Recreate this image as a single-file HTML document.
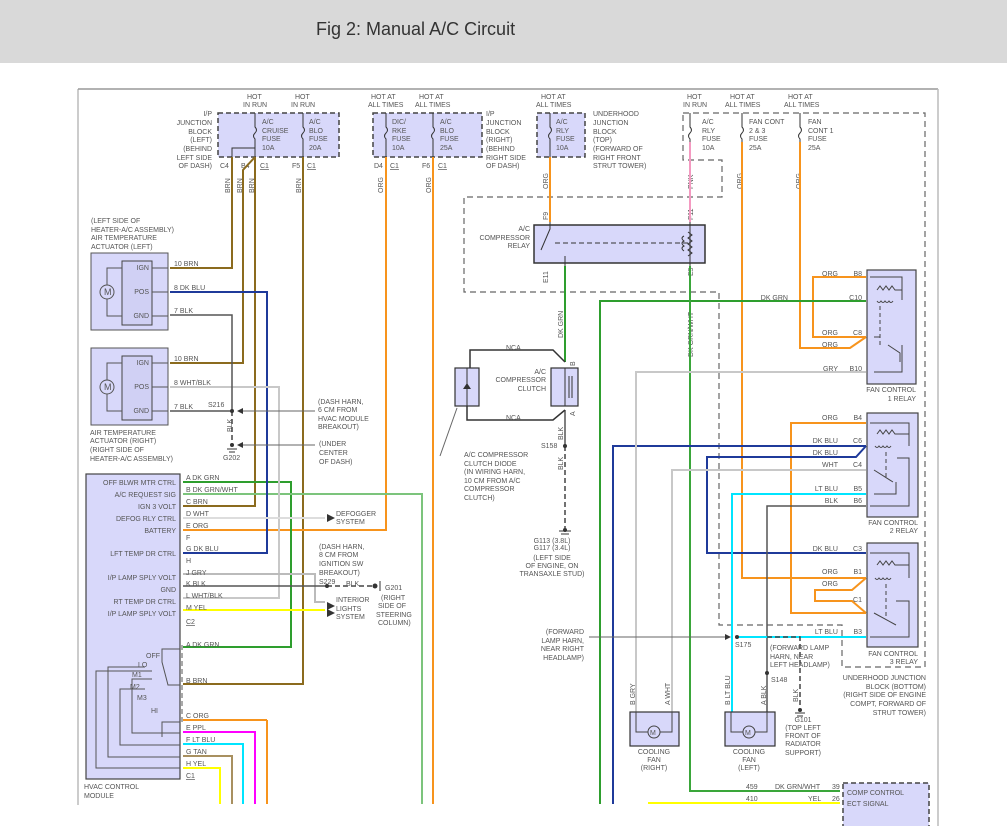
<!DOCTYPE html>
<html><head><meta charset="utf-8"><style>
html,body{margin:0;padding:0;background:#fff;}
svg{display:block;}
text{font-family:"Liberation Sans",sans-serif;font-size:7px;fill:#555;}
.t{font-size:18px;fill:#333;}
</style></head><body>
<svg width="1007" height="826" viewBox="0 0 1007 826" xmlns="http://www.w3.org/2000/svg">
<rect x="0" y="0" width="1007" height="63" fill="#d9d9d9"/>
<text x="316" y="35" class="t">Fig 2: Manual A/C Circuit</text>
<!-- borders -->
<line x1="78" y1="89" x2="938" y2="89" stroke="#999" stroke-width="1.5"/>
<line x1="78" y1="89" x2="78" y2="826" stroke="#999" stroke-width="1"/>
<line x1="938" y1="89" x2="938" y2="826" stroke="#bbb" stroke-width="1.5"/>

<g fill="none" stroke="#666" stroke-dasharray="6,4" stroke-width="1.2">
<!-- underhood top/big dashed -->
<path d="M683,113 H925 V667 H842 V625 H719 V292 H464 V197 H722 V160 H683 Z"/>
</g>

<!-- I/P junction blocks -->
<rect x="218" y="113" width="121" height="44" fill="#d8d8fa" stroke="#444" stroke-dasharray="5,3" stroke-width="1.5"/>
<rect x="373" y="113" width="109" height="44" fill="#d8d8fa" stroke="#444" stroke-dasharray="5,3" stroke-width="1.5"/>
<rect x="537" y="113" width="48" height="44" fill="#d8d8fa" stroke="#444" stroke-dasharray="5,3" stroke-width="1.5"/>

<g stroke="#333" stroke-width="1" fill="none">
<path d="M255,113 V127 q3,3 0,6 q-3,3 0,6 V157"/>
<path d="M303,113 V127 q3,3 0,6 q-3,3 0,6 V157"/>
<path d="M386,113 V127 q3,3 0,6 q-3,3 0,6 V157"/>
<path d="M433,113 V127 q3,3 0,6 q-3,3 0,6 V157"/>
<path d="M550,113 V127 q3,3 0,6 q-3,3 0,6 V157"/>
<path d="M690,113 V127 q3,3 0,6 q-3,3 0,6 V142"/>
<path d="M742,113 V127 q3,3 0,6 q-3,3 0,6 V142"/>
<path d="M800,113 V127 q3,3 0,6 q-3,3 0,6 V142"/>
<path d="M255,148 H232 V157"/>
</g>

<text x="247" y="99">HOT</text><text x="243" y="107">IN RUN</text>
<text x="295" y="99">HOT</text><text x="291" y="107">IN RUN</text>
<text x="371" y="99">HOT AT</text><text x="368" y="107">ALL TIMES</text>
<text x="419" y="99">HOT AT</text><text x="415" y="107">ALL TIMES</text>
<text x="541" y="99">HOT AT</text><text x="536" y="107">ALL TIMES</text>
<text x="687" y="99">HOT</text><text x="683" y="107">IN RUN</text>
<text x="730" y="99">HOT AT</text><text x="725" y="107">ALL TIMES</text>
<text x="788" y="99">HOT AT</text><text x="784" y="107">ALL TIMES</text>

<g text-anchor="end">
<text x="212" y="116">I/P</text><text x="212" y="125">JUNCTION</text><text x="212" y="134">BLOCK</text><text x="212" y="142">(LEFT)</text><text x="212" y="151">(BEHIND</text><text x="212" y="160">LEFT SIDE</text><text x="212" y="168">OF DASH)</text>
</g>
<text x="262" y="124">A/C</text><text x="262" y="133">CRUISE</text><text x="262" y="141">FUSE</text><text x="262" y="150">10A</text>
<text x="309" y="124">A/C</text><text x="309" y="133">BLO</text><text x="309" y="141">FUSE</text><text x="309" y="150">20A</text>
<text x="392" y="124">DIC/</text><text x="392" y="133">RKE</text><text x="392" y="141">FUSE</text><text x="392" y="150">10A</text>
<text x="440" y="124">A/C</text><text x="440" y="133">BLO</text><text x="440" y="141">FUSE</text><text x="440" y="150">25A</text>
<text x="486" y="116">I/P</text><text x="486" y="125">JUNCTION</text><text x="486" y="134">BLOCK</text><text x="486" y="142">(RIGHT)</text><text x="486" y="151">(BEHIND</text><text x="486" y="160">RIGHT SIDE</text><text x="486" y="168">OF DASH)</text>
<text x="556" y="124">A/C</text><text x="556" y="133">RLY</text><text x="556" y="141">FUSE</text><text x="556" y="150">10A</text>
<text x="593" y="116">UNDERHOOD</text><text x="593" y="125">JUNCTION</text><text x="593" y="134">BLOCK</text><text x="593" y="142">(TOP)</text><text x="593" y="151">(FORWARD OF</text><text x="593" y="160">RIGHT FRONT</text><text x="593" y="168">STRUT TOWER)</text>
<text x="702" y="124">A/C</text><text x="702" y="133">RLY</text><text x="702" y="141">FUSE</text><text x="702" y="150">10A</text>
<text x="749" y="124">FAN CONT</text><text x="749" y="133">2 &amp; 3</text><text x="749" y="141">FUSE</text><text x="749" y="150">25A</text>
<text x="808" y="124">FAN</text><text x="808" y="133">CONT 1</text><text x="808" y="141">FUSE</text><text x="808" y="150">25A</text>

<text x="220" y="168">C4</text><text x="241" y="168">B4</text><text x="260" y="168" text-decoration="underline">C1</text>
<text x="292" y="168">F5</text><text x="307" y="168" text-decoration="underline">C1</text>
<text x="374" y="168">D4</text><text x="390" y="168" text-decoration="underline">C1</text>
<text x="422" y="168">F6</text><text x="438" y="168" text-decoration="underline">C1</text>

<!-- vertical wire labels -->
<g>
<text transform="translate(230,193) rotate(-90)">BRN</text>
<text transform="translate(242,193) rotate(-90)">BRN</text>
<text transform="translate(254,193) rotate(-90)">BRN</text>
<text transform="translate(301,193) rotate(-90)">BRN</text>
<text transform="translate(383,193) rotate(-90)">ORG</text>
<text transform="translate(431,193) rotate(-90)">ORG</text>
<text transform="translate(548,189) rotate(-90)">ORG</text>
<text transform="translate(693,189) rotate(-90)">PNK</text>
<text transform="translate(742,189) rotate(-90)">ORG</text>
<text transform="translate(801,189) rotate(-90)">ORG</text>
<text transform="translate(548,220) rotate(-90)">F9</text>
<text transform="translate(693,220) rotate(-90)">F11</text>
<text transform="translate(548,283) rotate(-90)">E11</text>
<text transform="translate(693,276) rotate(-90)">E9</text>
<text transform="translate(563,338) rotate(-90)">DK GRN</text>
<text transform="translate(693,357) rotate(-90)">DK GRN/WHT</text>
<text transform="translate(563,440) rotate(-90)">BLK</text>
<text transform="translate(563,470) rotate(-90)">BLK</text>
<text transform="translate(232,432) rotate(-90)">BLK</text>
<text transform="translate(798,702) rotate(-90)">BLK</text>
<text transform="translate(635,705) rotate(-90)">B  GRY</text>
<text transform="translate(670,705) rotate(-90)">A  WHT</text>
<text transform="translate(730,705) rotate(-90)">B  LT BLU</text>
<text transform="translate(766,705) rotate(-90)">A  BLK</text>
<text transform="translate(575,366) rotate(-90)">B</text>
<text transform="translate(575,416) rotate(-90)">A</text>
</g>

<!-- WIRES -->
<g fill="none" stroke-width="2">
<!-- brown -->
<path d="M232,157 V268 H170" stroke="#8b6b1e"/>
<path d="M255,157 L243,170 V363 H170" stroke="#8b6b1e"/>
<path d="M255,157 V506 H183" stroke="#8b6b1e"/>
<path d="M303,157 V684 H183" stroke="#8b6b1e"/>
<!-- orange -->
<path d="M386,157 V530 H183" stroke="#f7941d"/>
<path d="M433,157 V804" stroke="#f7941d"/>
<path d="M550,157 V222" stroke="#f7941d"/>
<path d="M742,142 V578 H866" stroke="#f7941d"/>
<path d="M800,142 V348 H850 L866,337" stroke="#f7941d"/>
<path d="M866,277 H813 V337 H866" stroke="#f7941d"/>
<path d="M866,423 H791 V613 H866" stroke="#f7941d"/>
<path d="M866,578 L852,590 H815 V601 H852 L866,613" stroke="#f7941d"/>
<path d="M267,720 H183" stroke="#f7941d"/>
<path d="M267,720 V804" stroke="#f7941d"/>
<!-- pink -->
<path d="M690,142 V222" stroke="#f49ac1"/>
<!-- dark green -->
<path d="M565,266 V362" stroke="#2e9e2e"/>
<path d="M866,301 H600 V804" stroke="#2e9e2e"/>
<path d="M183,482 H291 V647 H183" stroke="#2e9e2e"/>
<path d="M690,266 V791 H840" stroke="#3aa63a"/>
<path d="M183,494 H422 V804" stroke="#7cc47c"/>
<!-- dark blue -->
<path d="M170,292 H267 V553 H183" stroke="#1f3a9a"/>
<path d="M866,446 H613 V804" stroke="#1f3a9a"/>
<path d="M866,446 L856,457 H707 V553 H866" stroke="#1f3a9a"/>
<!-- gray/white -->
<path d="M170,387 H279 V598 H183" stroke="#c8c8c8"/>
<path d="M183,518 H325" stroke="#ddd"/>
<path d="M183,574 H315 V602 H325" stroke="#bbb"/>
<path d="M866,372 H636 V712" stroke="#c8c8c8"/>
<path d="M866,470 H672 V712" stroke="#c8c8c8"/>
<!-- black -->
<path d="M170,315 H232 V411 H170" stroke="#555" stroke-width="1.5"/>
<path d="M183,586 H327" stroke="#555" stroke-width="1.5"/>
<path d="M866,506 H767 V712" stroke="#555" stroke-width="1.5"/>
<path d="M565,410 V446" stroke="#555" stroke-width="1.5"/>
<!-- lt blue -->
<path d="M866,494 H732 V712" stroke="#00e5ff"/>
<path d="M866,637 H737" stroke="#00e5ff"/>
<path d="M183,744 H243 V804" stroke="#00e5ff"/>
<!-- ppl -->
<path d="M183,732 H255 V804" stroke="#ff00ff"/>
<!-- tan -->
<path d="M183,756 H232 V804" stroke="#a89060"/>
<!-- yellow -->
<path d="M183,610 H325" stroke="#ffff00"/>
<path d="M183,768 H220 V804" stroke="#ffff00"/>
<path d="M648,803 H840" stroke="#ffff00"/>
</g>

<!-- dashed ground wires -->
<g fill="none" stroke="#444" stroke-width="1.5" stroke-dasharray="5,3">
<path d="M232,411 V440"/>
<path d="M565,446 V528"/>
<path d="M327,586 H372"/>
<path d="M767,637 H800 V708"/>
</g>
<g fill="#333">
<circle cx="232" cy="411" r="2"/><circle cx="232" cy="445" r="2"/>
<circle cx="565" cy="446" r="2"/><circle cx="327" cy="586" r="2"/>
<circle cx="375" cy="586" r="2.5"/><circle cx="737" cy="637" r="2"/>
<circle cx="767" cy="673" r="2"/><circle cx="565" cy="530" r="2"/><circle cx="800" cy="710" r="2"/>
</g>
<g stroke="#333" stroke-width="1">
<line x1="559" y1="531" x2="571" y2="531"/><line x1="561" y1="534" x2="569" y2="534"/>
<line x1="227" y1="449" x2="237" y2="449"/><line x1="229" y1="452" x2="235" y2="452"/>
<line x1="795" y1="713" x2="805" y2="713"/><line x1="797" y1="716" x2="803" y2="716"/>
<line x1="380" y1="581" x2="380" y2="591"/>
<line x1="315" y1="411" x2="240" y2="411" stroke="#666"/>
<line x1="315" y1="445" x2="240" y2="445" stroke="#666"/>
<line x1="589" y1="637" x2="726" y2="637" stroke="#666"/>
<line x1="440" y1="456" x2="457" y2="408" stroke="#666"/>
</g>
<g fill="#333">
<polygon points="237,411 243,408 243,414"/><polygon points="237,445 243,442 243,448"/>
<polygon points="731,637 725,634 725,640"/>
<polygon points="335,518 327,514 327,522"/><polygon points="335,606 327,602 327,610"/><polygon points="335,613 327,609 327,617"/>
</g>

<!-- actuators -->
<rect x="91" y="253" width="77" height="77" fill="#d8d8fa" stroke="#555"/>
<rect x="122" y="261" width="30" height="64" fill="#d0d0f4" stroke="#444"/>
<rect x="91" y="348" width="77" height="77" fill="#d8d8fa" stroke="#555"/>
<rect x="122" y="356" width="30" height="64" fill="#d0d0f4" stroke="#444"/>
<g fill="none" stroke="#555">
<path d="M122,268 H107 V285 M107,299 V316 H122"/>
<path d="M122,363 H107 V380 M107,394 V411 H122"/>
<circle cx="107" cy="292" r="7"/><circle cx="107" cy="387" r="7"/>
<path d="M152,268 H168 M152,292 H168 M152,316 H168 M152,363 H168 M152,387 H168 M152,411 H168"/>
</g>
<text x="104" y="295" style="font-size:9px">M</text><text x="104" y="390" style="font-size:9px">M</text>
<g text-anchor="end"><text x="149" y="270">IGN</text><text x="149" y="294">POS</text><text x="149" y="318">GND</text>
<text x="149" y="365">IGN</text><text x="149" y="389">POS</text><text x="149" y="413">GND</text></g>
<text x="174" y="266">10  BRN</text><text x="174" y="290">8   DK BLU</text><text x="174" y="313">7   BLK</text>
<text x="174" y="361">10  BRN</text><text x="174" y="385">8   WHT/BLK</text><text x="174" y="409">7   BLK</text><text x="208" y="407">S216</text>
<text x="91" y="223">(LEFT SIDE OF</text><text x="91" y="232">HEATER-A/C ASSEMBLY)</text><text x="91" y="240">AIR TEMPERATURE</text><text x="91" y="249">ACTUATOR (LEFT)</text>
<text x="90" y="435">AIR TEMPERATURE</text><text x="90" y="443">ACTUATOR (RIGHT)</text><text x="90" y="452">(RIGHT SIDE OF</text><text x="90" y="461">HEATER-A/C ASSEMBLY)</text>
<text x="223" y="460">G202</text>
<text x="318" y="404">(DASH HARN,</text><text x="318" y="412">6 CM FROM</text><text x="318" y="421">HVAC MODULE</text><text x="318" y="429">BREAKOUT)</text>
<text x="319" y="446">(UNDER</text><text x="319" y="455">CENTER</text><text x="319" y="464">OF DASH)</text>

<!-- HVAC module -->
<rect x="86" y="474" width="94" height="305" fill="#d8d8fa" stroke="#444" stroke-width="1.2"/>
<g text-anchor="end">
<text x="176" y="485">OFF BLWR MTR CTRL</text><text x="176" y="497">A/C REQUEST SIG</text><text x="176" y="509">IGN 3 VOLT</text><text x="176" y="521">DEFOG RLY CTRL</text><text x="176" y="533">BATTERY</text><text x="176" y="556">LFT TEMP DR CTRL</text><text x="176" y="580">I/P LAMP SPLY VOLT</text><text x="176" y="592">GND</text><text x="176" y="604">RT TEMP DR CTRL</text><text x="176" y="616">I/P LAMP SPLY VOLT</text>
</g>
<g>
<text x="186" y="480">A   DK GRN</text><text x="186" y="492">B   DK GRN/WHT</text><text x="186" y="504">C   BRN</text><text x="186" y="516">D   WHT</text><text x="186" y="528">E   ORG</text><text x="186" y="540">F</text><text x="186" y="551">G   DK BLU</text><text x="186" y="563">H</text><text x="186" y="575">J   GRY</text><text x="186" y="586">K   BLK</text><text x="186" y="598">L   WHT/BLK</text><text x="186" y="610">M   YEL</text><text x="186" y="624" text-decoration="underline">C2</text>
<text x="186" y="647">A   DK GRN</text><text x="186" y="683">B   BRN</text><text x="186" y="718">C   ORG</text><text x="186" y="730">E   PPL</text><text x="186" y="742">F   LT BLU</text><text x="186" y="754">G   TAN</text><text x="186" y="766">H   YEL</text><text x="186" y="778" text-decoration="underline">C1</text>
</g>
<g fill="none" stroke="#555" stroke-width="1">
<path d="M180,649 H162 V662 L168,685 H180"/>
<path d="M162,737 V722 H180"/>
<path d="M152,679 H132 V733 H180"/>
<path d="M145,689 H120 V745 H180"/>
<path d="M145,667 H108 V757 H180"/>
<path d="M152,671 H96 V768 H180"/>
<path d="M182,645 V724" stroke-dasharray="5,3"/>
</g>
<text x="146" y="658">OFF</text><text x="138" y="667">LO</text><text x="132" y="677">M1</text><text x="130" y="689">M2</text><text x="137" y="700">M3</text><text x="151" y="713">HI</text>
<text x="84" y="789">HVAC CONTROL</text><text x="84" y="798">MODULE</text>
<text x="336" y="516">DEFOGGER</text><text x="336" y="524">SYSTEM</text>
<text x="319" y="549">(DASH HARN,</text><text x="319" y="557">8 CM FROM</text><text x="319" y="566">IGNITION SW</text><text x="319" y="575">BREAKOUT)</text>
<text x="319" y="584">S229</text><text x="346" y="586">BLK</text>
<text x="336" y="602">INTERIOR</text><text x="336" y="611">LIGHTS</text><text x="336" y="619">SYSTEM</text>
<text x="385" y="590">G201</text><text x="381" y="600">(RIGHT</text><text x="378" y="608">SIDE OF</text><text x="376" y="617">STEERING</text><text x="378" y="625">COLUMN)</text>

<!-- A/C compressor relay -->
<rect x="534" y="225" width="171" height="38" fill="#d8d8fa" stroke="#333" stroke-width="1.5"/>
<g fill="none" stroke="#333">
<path d="M550,222 V229 L541,250"/><path d="M555,243 H690" stroke-dasharray="5,3"/>
<path d="M565,256 V266"/><path d="M690,222 V266"/>
<path d="M688,232 l4,3 -4,3 4,3 -4,3 4,3 -4,3 4,3 -4,3"/>
<path d="M684,236 q-4,2 0,5 q-4,2 0,5 q-4,2 0,5"/>
</g>
<g text-anchor="end"><text x="530" y="231">A/C</text><text x="530" y="240">COMPRESSOR</text><text x="530" y="248">RELAY</text></g>

<!-- clutch and diode -->
<g fill="none" stroke="#333" stroke-width="1.5">
<path d="M565,362 L553,350 H470 V368"/><path d="M467,406 V420 H553 L565,410"/>
</g>
<rect x="551" y="368" width="27" height="38" fill="#d8d8fa" stroke="#333" stroke-width="1.2"/>
<rect x="455" y="368" width="24" height="38" fill="#d8d8fa" stroke="#333" stroke-width="1.2"/>
<g fill="none" stroke="#333"><path d="M565,368 V406"/><path d="M569,376 V398 M572,376 V398"/><path d="M467,368 V406"/></g>
<polygon points="463,389 471,389 467,383" fill="#333"/>
<text x="506" y="350">NCA</text><text x="506" y="420">NCA</text>
<g text-anchor="end"><text x="546" y="374">A/C</text><text x="546" y="382">COMPRESSOR</text><text x="546" y="391">CLUTCH</text></g>
<text x="464" y="457">A/C COMPRESSOR</text><text x="464" y="466">CLUTCH DIODE</text><text x="464" y="474">(IN WIRING HARN,</text><text x="464" y="483">10 CM FROM A/C</text><text x="464" y="491">COMPRESSOR</text><text x="464" y="500">CLUTCH)</text>
<text x="541" y="448">S158</text>
<g text-anchor="middle"><text x="552" y="543">G113 (3.8L)</text><text x="552" y="550">G117 (3.4L)</text><text x="552" y="560">(LEFT SIDE</text><text x="552" y="568">OF ENGINE, ON</text><text x="552" y="576">TRANSAXLE STUD)</text></g>

<!-- fan relays -->
<g fill="#d8d8fa" stroke="#444" stroke-width="1.2">
<rect x="867" y="270" width="49" height="114"/>
<rect x="867" y="413" width="51" height="104"/>
<rect x="867" y="543" width="51" height="104"/>
</g>
<g fill="none" stroke="#444">
<path d="M870,277 H902 V300 M877,290 l3,-4 3,4 3,-4 3,4 3,-4 3,4 H902 M877,301 q2,3 4,0 q2,3 4,0 q2,3 4,0 q2,3 4,0 M874,337 H880 M888,345 L900,353 V362 M874,372 H902 V345"/>
<path d="M880,306 V345" stroke-dasharray="4,3"/>
<path d="M870,423 H909 V446 M877,434 l3,-4 3,4 3,-4 3,4 3,-4 3,4 H909 M875,446 q2,3 4,0 q2,3 4,0 q2,3 4,0 q2,3 4,0 M874,470 L893,482 M897,458 H909 V506 H870 M874,494 H896 V482"/>
<path d="M886,452 V478" stroke-dasharray="4,3"/>
<path d="M870,553 H909 V578 M877,565 l3,-4 3,4 3,-4 3,4 3,-4 3,4 H909 M875,578 q2,3 4,0 q2,3 4,0 q2,3 4,0 q2,3 4,0 M874,613 L896,625 M896,601 H909 V637 H870"/>
<path d="M886,584 V618" stroke-dasharray="4,3"/>
</g>
<g text-anchor="end">
<text x="838" y="276">ORG</text><text x="862" y="276">B8</text>
<text x="788" y="300">DK GRN</text><text x="862" y="300">C10</text>
<text x="838" y="335">ORG</text><text x="862" y="335">C8</text><text x="838" y="347">ORG</text>
<text x="838" y="371">GRY</text><text x="862" y="371">B10</text>
<text x="916" y="392">FAN CONTROL</text><text x="916" y="401">1 RELAY</text>
<text x="838" y="420">ORG</text><text x="862" y="420">B4</text>
<text x="838" y="443">DK BLU</text><text x="862" y="443">C6</text>
<text x="838" y="455">DK BLU</text>
<text x="838" y="467">WHT</text><text x="862" y="467">C4</text>
<text x="838" y="491">LT BLU</text><text x="862" y="491">B5</text>
<text x="838" y="503">BLK</text><text x="862" y="503">B6</text>
<text x="918" y="525">FAN CONTROL</text><text x="918" y="533">2 RELAY</text>
<text x="838" y="551">DK BLU</text><text x="862" y="551">C3</text>
<text x="838" y="574">ORG</text><text x="862" y="574">B1</text>
<text x="838" y="586">ORG</text><text x="862" y="602">C1</text>
<text x="838" y="634">LT BLU</text><text x="862" y="634">B3</text>
<text x="918" y="656">FAN CONTROL</text><text x="918" y="664">3 RELAY</text>
<text x="926" y="680">UNDERHOOD JUNCTION</text><text x="926" y="689">BLOCK (BOTTOM)</text><text x="926" y="697">(RIGHT SIDE OF ENGINE</text><text x="926" y="706">COMPT, FORWARD OF</text><text x="926" y="715">STRUT TOWER)</text>
<text x="584" y="634">(FORWARD</text><text x="584" y="643">LAMP HARN,</text><text x="584" y="651">NEAR RIGHT</text><text x="584" y="660">HEADLAMP)</text>
</g>
<text x="735" y="647">S175</text><text x="771" y="682">S148</text>
<text x="770" y="650">(FORWARD LAMP</text><text x="770" y="659">HARN, NEAR</text><text x="770" y="667">LEFT HEADLAMP)</text>
<g text-anchor="middle"><text x="803" y="722">G101</text><text x="803" y="730">(TOP LEFT</text><text x="803" y="738">FRONT OF</text><text x="803" y="746">RADIATOR</text><text x="803" y="755">SUPPORT)</text></g>

<!-- cooling fans -->
<rect x="630" y="712" width="49" height="34" fill="#d8d8fa" stroke="#333" stroke-width="1.2"/>
<rect x="725" y="712" width="50" height="34" fill="#d8d8fa" stroke="#333" stroke-width="1.2"/>
<g fill="none" stroke="#444">
<path d="M636,712 V732 H648 M660,732 H672 V712"/><circle cx="654" cy="732" r="6"/>
<path d="M731,712 V732 H743 M755,732 H767 V712"/><circle cx="749" cy="732" r="6"/>
</g>
<text x="650" y="735">M</text><text x="745" y="735">M</text>
<g text-anchor="middle"><text x="654" y="754">COOLING</text><text x="654" y="762">FAN</text><text x="654" y="770">(RIGHT)</text>
<text x="749" y="754">COOLING</text><text x="749" y="762">FAN</text><text x="749" y="770">(LEFT)</text></g>

<!-- bottom PCM -->
<text x="746" y="789">459</text><text x="775" y="789">DK GRN/WHT</text><text x="832" y="789">39</text>
<text x="746" y="801">410</text><text x="808" y="801">YEL</text><text x="832" y="801">26</text>
<rect x="843" y="783" width="86" height="45" fill="#d8d8fa" stroke="#444" stroke-dasharray="5,3" stroke-width="1.5"/>
<text x="847" y="795">COMP CONTROL</text><text x="847" y="806">ECT SIGNAL</text>
<rect x="0" y="805" width="842" height="21" fill="#fff"/>
</svg>
</body></html>
